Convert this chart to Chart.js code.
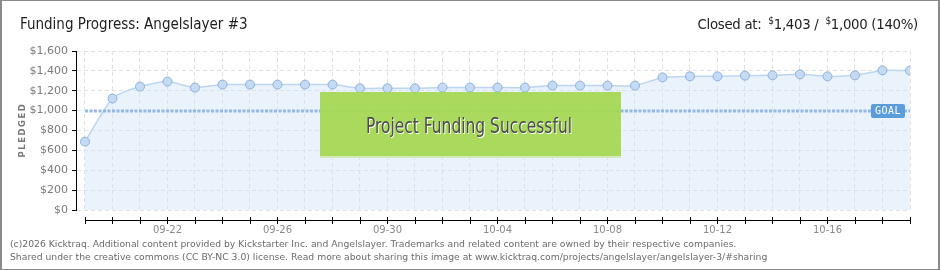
<!DOCTYPE html>
<html>
<head>
<meta charset="utf-8">
<script src="https://cdn.jsdelivr.net/npm/chart.js@4"></script>
<style>
  html, body { margin: 0; padding: 0; background: #fff; }
  #wrap { position: relative; width: 940px; height: 270px; box-sizing: border-box; border: 1px solid #8a8a8a; border-left-width: 2px; border-right-width: 2px; overflow: hidden; }
  #c { position: absolute; left: -2px; top: -1px; }
  .title { position: absolute; left: 18px; top: 14px; font: 15px "DejaVu Sans Condensed", "DejaVu Sans"; color: #1e1e1e; white-space: nowrap; }
  .closed { position: absolute; right: 20px; top: 14px; font: 14.8px "DejaVu Sans Condensed", "DejaVu Sans"; color: #1e1e1e; white-space: nowrap; letter-spacing: -0.3px; }
  .closed sup { font-size: 10px; vertical-align: 5px; margin-left: 3px; }
  .foot { position: absolute; left: 8px; top: 237px; font: 9.25px "DejaVu Sans"; color: #6a6a6a; line-height: 12.5px; white-space: nowrap; }
</style>
</head>
<body>
<div id="wrap">
  <canvas id="c" width="940" height="270"></canvas>
  <div class="title">Funding Progress: Angelslayer #3</div>
  <div class="closed">Closed at: <sup>$</sup>1,403 / <sup>$</sup>1,000 (140%)</div>
  <div class="foot">(c)2026 Kicktraq. Additional content provided by Kickstarter Inc. and Angelslayer. Trademarks and related content are owned by their respective companies.<br>Shared under the creative commons (CC BY-NC 3.0) license. Read more about sharing this image at www.kicktraq.com/projects/angelslayer/angelslayer-3/#sharing</div>
</div>
<script>
const dates = ['09-19','09-20','09-21','09-22','09-23','09-24','09-25','09-26','09-27','09-28','09-29','09-30',
  '10-01','10-02','10-03','10-04','10-05','10-06','10-07','10-08','10-09','10-10','10-11','10-12','10-13','10-14',
  '10-15','10-16','10-17','10-18','10-19'];
const pledged = [688, 1122, 1242, 1292, 1232, 1262, 1262, 1262, 1262, 1262, 1225, 1225, 1225, 1232, 1232, 1232,
  1232, 1252, 1252, 1252, 1252, 1334, 1345, 1345, 1352, 1355, 1365, 1345, 1355, 1405, 1403];
const xTickLabels = ['09-22','09-26','09-30','10-04','10-08','10-12','10-16'];
const yTicks = [0, 200, 400, 600, 800, 1000, 1200, 1400, 1600];
const goal = 1000;

const decor = {
  id: 'decor',
  afterDatasetsDraw(chart) {
    const ctx = chart.ctx;
    const x = chart.scales.x, y = chart.scales.y;
    const area = chart.chartArea;
    const x0 = x.getPixelForValue(0);
    ctx.save();

    // goal line
    const gy = Math.round(y.getPixelForValue(goal));
    ctx.strokeStyle = '#93b9e4';
    ctx.lineWidth = 3;
    ctx.setLineDash([3, 1.5]);
    ctx.beginPath();
    ctx.moveTo(x0, gy);
    ctx.lineTo(area.right, gy);
    ctx.stroke();
    ctx.setLineDash([]);

    // success banner
    ctx.globalAlpha = 0.92;
    ctx.fillStyle = '#a4d84f';
    ctx.fillRect(320, 92, 301, 64);
    ctx.globalAlpha = 1;
    ctx.fillStyle = '#d5e8b8';
    ctx.fillRect(320, 156, 301, 2);
    ctx.font = '21px "DejaVu Sans Condensed", "DejaVu Sans"';
    ctx.textAlign = 'left';
    ctx.textBaseline = 'alphabetic';
    const msg = 'Project Funding Successful';
    const w = ctx.measureText(msg).width;
    ctx.save();
    ctx.translate(366, 133);
    ctx.scale(206 / w, 1);
    ctx.fillStyle = '#ffffff';
    ctx.fillText(msg, 1, 1);
    ctx.fillStyle = '#4c4c4c';
    ctx.fillText(msg, 0, 0);
    ctx.restore();

    // goal label
    ctx.fillStyle = '#5b9ddb';
    ctx.beginPath();
    ctx.roundRect(871, gy - 7, 34, 14, 2);
    ctx.fill();
    ctx.fillStyle = '#ffffff';
    ctx.font = '10px "DejaVu Sans Mono", monospace';
    ctx.letterSpacing = '0.5px';
    ctx.textAlign = 'center';
    ctx.textBaseline = 'middle';
    ctx.fillText('GOAL', 888, gy);
    ctx.restore();
  },
  afterDraw(chart) {
    const ctx = chart.ctx;
    const x = chart.scales.x;
    const area = chart.chartArea;
    ctx.save();

    // separate x axis line below the plot
    const axy = 220;
    const x0 = Math.round(x.getPixelForValue(0));
    ctx.fillStyle = '#000000';
    ctx.fillRect(x0, axy, area.right - x0 + 1, 1);
    dates.forEach((d, i) => {
      const px = Math.round(x.getPixelForValue(i));
      ctx.fillRect(px, axy - 3, 1, 7);
    });

    // axis title
    ctx.translate(23, 130);
    ctx.rotate(-Math.PI / 2);
    ctx.fillStyle = '#777777';
    ctx.font = 'bold 8.5px "DejaVu Sans"';
    ctx.letterSpacing = '1.5px';
    ctx.textAlign = 'center';
    ctx.textBaseline = 'middle';
    ctx.fillText('PLEDGED', 0, 0);
    ctx.restore();
  }
};

new Chart(document.getElementById('c'), {
  type: 'line',
  data: {
    datasets: [{
      data: pledged.map((v, i) => ({ x: i, y: v })),
      borderColor: '#bcd6f1',
      borderWidth: 1.5,
      backgroundColor: 'rgba(205,225,248,0.42)',
      fill: 'origin',
      tension: 0.2,
      pointRadius: 4.5,
      pointBackgroundColor: '#c3dbf5',
      pointBorderColor: '#8fb0d8',
      pointBorderWidth: 1
    }]
  },
  options: {
    responsive: false,
    animation: false,
    layout: { padding: { top: 51, right: 30, left: 0, bottom: 0 } },
    plugins: { legend: { display: false }, tooltip: { enabled: false } },
    scales: {
      x: {
        type: 'linear',
        min: -0.327, max: dates.length - 1,
        offset: false,
        afterFit(s) { s.height = 60; },
        afterBuildTicks(s) { s.ticks = dates.map((d, i) => ({ value: i })); },
        grid: { color: '#e2e2e2', drawTicks: false },
        border: { display: false, dash: [4, 3] },
        ticks: {
          autoSkip: false, maxRotation: 0, padding: 14, color: '#8a8a8a',
          font: { family: 'DejaVu Sans', size: 10 },
          callback(v) { return xTickLabels.includes(dates[v]) ? dates[v] : ''; }
        }
      },
      y: {
        min: 0, max: 1600,
        afterFit(s) { s.width = 76; },
        afterBuildTicks(s) {
          const t = [];
          for (let v = 0; v <= yTicks[yTicks.length - 1]; v += 100) t.push({ value: v });
          s.ticks = t;
        },
        grid: {
          drawTicks: true, tickLength: 4,
          color: c => yTicks.includes(c.tick.value) ? '#e2e2e2' : 'rgba(0,0,0,0)',
          tickColor: c => yTicks.includes(c.tick.value) ? '#000000' : '#e00000'
        },
        border: { display: true, color: '#000000', width: 1, dash: [4, 3] },
        ticks: {
          padding: 4, color: '#7a7a7a',
          font: { family: 'DejaVu Sans', size: 11 },
          callback(v) { return yTicks.includes(v) ? '$' + v.toLocaleString('en-US') : ''; }
        }
      }
    }
  },
  plugins: [decor]
});
</script>
</body>
</html>
